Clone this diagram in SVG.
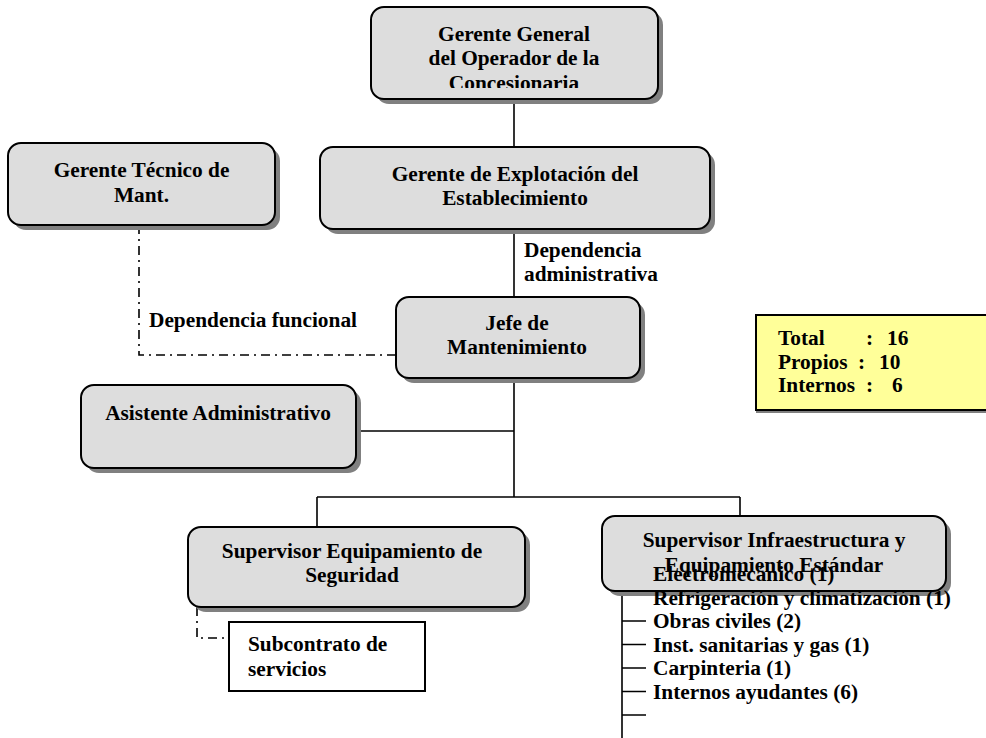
<svg xmlns="http://www.w3.org/2000/svg" width="986" height="738" viewBox="0 0 986 738">
<defs>
<style>
text{font-family:"Liberation Serif","Times New Roman",serif;font-weight:bold;font-size:21.33px;fill:#000}
.c{text-anchor:middle}
.box{fill:#dddddd;stroke:#000;stroke-width:2}
.sh{fill:#808080}
.ln{stroke:#000;stroke-width:1.6;fill:none}
.dd{stroke:#000;stroke-width:1.6;fill:none;stroke-dasharray:9 5 2 5}
</style>
<clipPath id="ggclip"><rect x="371" y="7" width="287" height="81"/></clipPath>
</defs>
<rect width="986" height="738" fill="#fff"/>
<g id="connectors">
<path class="ln" d="M514 99V147"/>
<path class="ln" d="M514 229V297"/>
<path class="ln" d="M514 378V497"/>
<path class="ln" d="M356 431H514"/>
<path class="ln" d="M317 497H740M317 497V527M740 497V516"/>
<path class="dd" d="M139 225V355H396"/>
<path class="dd" d="M197 607V638H229"/>
<path class="ln" d="M622 594V738M622 621H646M622 644.5H646M622 668H646M622 691.5H646M622 715H646"/>
</g>
<g id="gerente-general">
<rect class="sh" x="376" y="12" width="287" height="92" rx="13"/>
<rect class="box" x="371" y="7" width="287" height="92" rx="13"/>
<g clip-path="url(#ggclip)">
<text class="c" x="514" y="40.7">Gerente General</text>
<text class="c" x="514" y="65.2">del Operador de la</text>
<text class="c" x="514" y="89.7">Concesionaria</text>
</g>
</g>
<g id="gerente-tecnico">
<rect class="sh" x="13" y="148" width="267" height="82" rx="13"/>
<rect class="box" x="8" y="143" width="267" height="82" rx="13"/>
<text class="c" x="141.5" y="177">Gerente Técnico de</text>
<text class="c" x="141.5" y="201.5">Mant.</text>
</g>
<g id="gerente-explotacion">
<rect class="sh" x="325" y="152" width="390" height="82" rx="13"/>
<rect class="box" x="320" y="147" width="390" height="82" rx="13"/>
<text class="c" x="515" y="180.7">Gerente de Explotación del</text>
<text class="c" x="515" y="205">Establecimiento</text>
</g>
<g id="label-admin">
<text x="524" y="257">Dependencia</text>
<text x="524" y="281">administrativa</text>
</g>
<g id="label-funcional">
<text x="149" y="327">Dependencia funcional</text>
</g>
<g id="jefe-mantenimiento">
<rect class="sh" x="401" y="302" width="244" height="81" rx="13"/>
<rect class="box" x="396" y="297" width="244" height="81" rx="13"/>
<text class="c" x="517" y="329.5">Jefe de</text>
<text class="c" x="517" y="354">Mantenimiento</text>
</g>
<g id="totales">
<rect x="756" y="318" width="240" height="95" fill="#808080"/>
<rect x="756" y="315" width="240" height="95" fill="#ffff99" stroke="#000" stroke-width="2"/>
<text x="778" y="345">Total<tspan x="866">:</tspan><tspan x="887">16</tspan></text>
<text x="778" y="368.5">Propios<tspan x="858">:</tspan><tspan x="879">10</tspan></text>
<text x="778" y="392">Internos<tspan x="866">:</tspan><tspan x="892">6</tspan></text>
</g>
<g id="asistente">
<rect class="sh" x="86" y="390" width="275" height="83" rx="13"/>
<rect class="box" x="81" y="385" width="275" height="83" rx="13"/>
<text class="c" x="218" y="419.5">Asistente Administrativo</text>
</g>
<g id="supervisor-seguridad">
<rect class="sh" x="193" y="532" width="337" height="80" rx="13"/>
<rect class="box" x="188" y="527" width="337" height="80" rx="13"/>
<text class="c" x="352" y="557.5">Supervisor Equipamiento de</text>
<text class="c" x="352" y="582">Seguridad</text>
</g>
<g id="subcontrato">
<rect x="229" y="622" width="196" height="69" fill="#fff" stroke="#000" stroke-width="2"/>
<text x="248" y="651">Subcontrato de</text>
<text x="248" y="675.5">servicios</text>
</g>
<g id="supervisor-infraestructura">
<rect class="sh" x="607" y="521" width="344" height="75" rx="13"/>
<rect class="box" x="602" y="516" width="344" height="75" rx="13"/>
<text class="c" x="774" y="547">Supervisor Infraestructura y</text>
<text class="c" x="774" y="572">Equipamiento Estándar</text>
</g>
<g id="lista">
<text x="653" y="580.5">Electromecánico (1)</text>
<text x="653" y="604.5">Refrigeración y climatización (1)</text>
<text x="653" y="628">Obras civiles (2)</text>
<text x="653" y="651.5">Inst. sanitarias y gas (1)</text>
<text x="653" y="675">Carpinteria (1)</text>
<text x="653" y="698.5">Internos ayudantes (6)</text>
</g>
</svg>
